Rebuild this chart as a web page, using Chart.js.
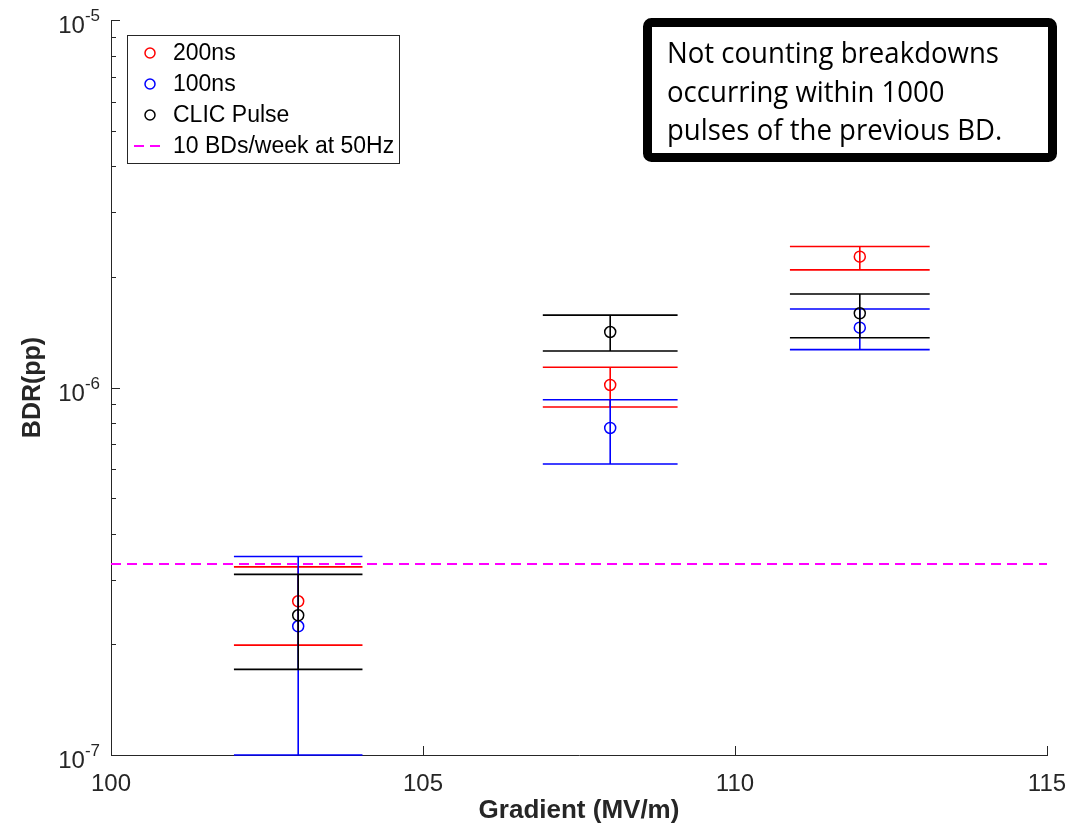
<!DOCTYPE html>
<html>
<head>
<meta charset="utf-8">
<script src="https://cdn.jsdelivr.net/npm/chart.js@4/dist/chart.umd.min.js"></script>
<style>
  html, body { margin: 0; padding: 0; background: #fff; }
</style>
</head>
<body>
<canvas id="bdr" width="1092" height="834"></canvas>
<script>
// gradient (MV/m) of each measurement group
const gradients = [103, 108, 112];

// 200ns pulse: BDR and error bar ends
const bdr200   = [2.62e-7, 1.016e-6, 2.27e-6];
const bdr200Lo = [1.99e-7, 8.85e-7, 2.09e-6];
const bdr200Hi = [3.25e-7, 1.135e-6, 2.42e-6];

// 100ns pulse
const bdr100   = [2.24e-7, 7.76e-7, 1.455e-6];
const bdr100Lo = [1.0e-7, 6.19e-7, 1.268e-6];
const bdr100Hi = [3.47e-7, 9.26e-7, 1.636e-6];

// CLIC pulse
const bdrClic   = [2.40e-7, 1.416e-6, 1.592e-6];
const bdrClicLo = [1.71e-7, 1.257e-6, 1.366e-6];
const bdrClicHi = [3.10e-7, 1.574e-6, 1.796e-6];

// 10 BDs/week at 50Hz
const limitX = [100, 115];
const limitBdr = [3.31e-7, 3.31e-7];

// ticks
const xTicks = [100, 105, 110, 115];
const yMajor = [1e-7, 1e-6, 1e-5];
const yMajorExp = ['-7', '-6', '-5'];
const yMinor = [2e-7, 3e-7, 4e-7, 5e-7, 6e-7, 7e-7, 8e-7, 9e-7,
                2e-6, 3e-6, 4e-6, 5e-6, 6e-6, 7e-6, 8e-6, 9e-6];

const noteLines = ['Not counting breakdowns', 'occurring within 1000', 'pulses of the previous BD.'];

const FONT = '"Liberation Sans", Arial, Helvetica, sans-serif';
const AXIS = '#262626';

function pts(ys) {
    return gradients.map((x, i) => ({x, y: ys[i]}));
}

function markerSet(label, color, ys, lo, hi, order) {
    return {
        label,
        data: pts(ys),
        errLo: lo,
        errHi: hi,
        borderColor: color,
        backgroundColor: 'rgba(0,0,0,0)',
        pointRadius: 5.5,
        pointHoverRadius: 5.5,
        pointBorderWidth: 1.5,
        showLine: false,
        order
    };
}

// vertical error bars + wide caps, drawn under each series' markers
const errorBars = {
    id: 'errorBars',
    beforeDatasetDraw(chart, args) {
        const ds = chart.data.datasets[args.index];
        if (!ds.errLo) return;
        const {ctx, chartArea: a, scales: {x, y}} = chart;
        ctx.save();
        ctx.beginPath();
        ctx.rect(a.left, a.top, a.right - a.left, a.bottom - a.top + 2);
        ctx.clip();
        ctx.strokeStyle = ds.borderColor;
        ctx.lineWidth = 1.6;
        ds.data.forEach((p, i) => {
            const px = x.getPixelForValue(p.x);
            const half = p.x * 0.01;
            const xl = x.getPixelForValue(p.x - half);
            const xr = x.getPixelForValue(p.x + half);
            const yl = y.getPixelForValue(ds.errLo[i]);
            const yh = y.getPixelForValue(ds.errHi[i]);
            ctx.beginPath();
            ctx.moveTo(px, yl); ctx.lineTo(px, yh);
            ctx.moveTo(xl, yl); ctx.lineTo(xr, yl);
            ctx.moveTo(xl, yh); ctx.lineTo(xr, yh);
            ctx.stroke();
        });
        ctx.restore();
    }
};

// inward ticks, tick labels with superscripts, legend and the note box
const decorations = {
    id: 'decorations',
    afterDraw(chart) {
        const {ctx, chartArea: a, scales: {x, y}} = chart;
        ctx.save();
        ctx.strokeStyle = AXIS;
        ctx.lineWidth = 1;
        ctx.beginPath();
        xTicks.forEach(v => {
            const px = Math.round(x.getPixelForValue(v)) + 0.5;
            ctx.moveTo(px, a.bottom); ctx.lineTo(px, a.bottom - 9);
        });
        yMajor.forEach(v => {
            const py = Math.round(y.getPixelForValue(v)) + 0.5;
            ctx.moveTo(a.left, py); ctx.lineTo(a.left + 9, py);
        });
        yMinor.forEach(v => {
            const py = Math.round(y.getPixelForValue(v)) + 0.5;
            ctx.moveTo(a.left, py); ctx.lineTo(a.left + 5, py);
        });
        ctx.stroke();

        // tick labels
        ctx.fillStyle = AXIS;
        ctx.textBaseline = 'alphabetic';
        ctx.font = '24px ' + FONT;
        ctx.textAlign = 'center';
        xTicks.forEach(v => ctx.fillText(String(v), x.getPixelForValue(v), a.bottom + 36));
        yMajor.forEach((v, i) => {
            const py = y.getPixelForValue(v);
            ctx.textAlign = 'right';
            ctx.font = '17px ' + FONT;
            const ew = ctx.measureText(yMajorExp[i]).width;
            ctx.fillText(yMajorExp[i], 100, py + 1);
            ctx.font = '24px ' + FONT;
            ctx.fillText('10', 100 - ew, py + 13);
        });

        // legend
        const lx = 127.5, ly = 35.5, lw = 272, lh = 128;
        ctx.fillStyle = '#fff';
        ctx.fillRect(lx, ly, lw, lh);
        ctx.strokeStyle = AXIS;
        ctx.strokeRect(lx, ly, lw, lh);
        const rows = [53, 84, 115, 146];
        ctx.font = '23px ' + FONT;
        ctx.textAlign = 'left';
        ctx.textBaseline = 'middle';
        chart.data.datasets.forEach((ds, r) => {
            const ry = rows[r];
            ctx.strokeStyle = ds.borderColor;
            if (ds.type === 'line') {
                ctx.lineWidth = 2;
                ctx.setLineDash(ds.borderDash);
                ctx.beginPath();
                ctx.moveTo(134, ry); ctx.lineTo(166, ry);
                ctx.stroke();
                ctx.setLineDash([]);
            } else {
                ctx.lineWidth = 1.5;
                ctx.beginPath();
                ctx.arc(150, ry, 5, 0, Math.PI * 2);
                ctx.stroke();
            }
            ctx.fillStyle = '#000';
            ctx.fillText(ds.label, 173, ry + 1);
        });

        // note box
        ctx.lineWidth = 9;
        ctx.strokeStyle = '#000';
        ctx.lineJoin = 'round';
        ctx.fillStyle = '#fff';
        ctx.beginPath();
        ctx.roundRect(647.5, 22.5, 405, 135, 4);
        ctx.fill();
        ctx.stroke();
        ctx.fillStyle = '#000';
        ctx.textBaseline = 'alphabetic';
        ctx.font = '29px "Open Sans", "Noto Sans", sans-serif';
        const sx = 332 / ctx.measureText(noteLines[0]).width;
        const base = [63, 101.5, 140];
        noteLines.forEach((t, i) => {
            ctx.save();
            ctx.translate(667, base[i]);
            ctx.scale(sx, 1);
            ctx.fillText(t, 0, 0);
            ctx.restore();
        });
        ctx.restore();
    }
};

new Chart(document.getElementById('bdr').getContext('2d'), {
    type: 'scatter',
    plugins: [errorBars, decorations],
    data: {
        datasets: [
            markerSet('200ns', '#ff0000', bdr200, bdr200Lo, bdr200Hi, 3),
            markerSet('100ns', '#0000ff', bdr100, bdr100Lo, bdr100Hi, 2),
            markerSet('CLIC Pulse', '#000000', bdrClic, bdrClicLo, bdrClicHi, 1),
            {
                type: 'line',
                label: '10 BDs/week at 50Hz',
                data: limitX.map((x, i) => ({x, y: limitBdr[i]})),
                borderColor: '#ff00ff',
                borderDash: [10, 6],
                borderWidth: 2,
                pointRadius: 0,
                order: 0
            }
        ]
    },
    options: {
        responsive: false,
        animation: false,
        events: [],
        layout: {
            padding: {top: 20, right: 45, left: 0, bottom: 0}
        },
        scales: {
            x: {
                type: 'linear',
                min: 100,
                max: 115,
                afterFit: (s) => { s.height = 79; },
                ticks: {display: false},
                grid: {display: false},
                border: {display: true, color: AXIS, width: 1},
                title: {
                    display: true,
                    text: 'Gradient (MV/m)',
                    color: AXIS,
                    font: {family: FONT, size: 26, weight: 'bold'},
                    padding: {top: 0, bottom: 8}
                }
            },
            y: {
                type: 'logarithmic',
                min: 1e-7,
                max: 1e-5,
                afterFit: (s) => { s.width = 111; },
                ticks: {display: false},
                grid: {display: false},
                border: {display: true, color: AXIS, width: 1},
                title: {
                    display: true,
                    text: 'BDR(pp)',
                    color: AXIS,
                    font: {family: FONT, size: 25, weight: 'bold'},
                    padding: {top: 18, bottom: 0}
                }
            }
        },
        plugins: {
            legend: {display: false},
            tooltip: {enabled: false}
        }
    }
});
</script>
</body>
</html>
